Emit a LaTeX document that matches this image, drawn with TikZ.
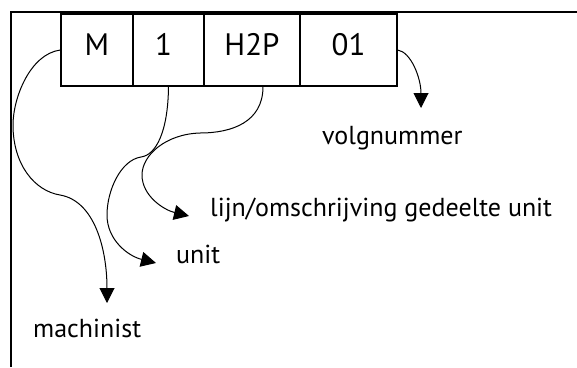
\documentclass[tikz,border=0pt]{standalone}
\usepackage{fontspec}
\setmainfont{PT Sans}
\usetikzlibrary{arrows.meta}
\begin{document}
\begin{tikzpicture}[x=1pt,y=-1pt,
  frameline/.style={line width=1.6pt},
  cell/.style={draw,line width=1.3pt,minimum height=72pt,inner sep=0pt,
    text height=22pt,text depth=12pt,font=\fontsize{31}{36}\selectfont},
  lbl/.style={anchor=base west,inner sep=0pt,font=\fontsize{26}{30}\selectfont},
  conn/.style={line width=1pt,-{Triangle[length=15pt,width=15pt]}}]
\useasboundingbox (0,0) rectangle (577,367);
% frame
\draw[frameline] (11,367) -- (11,12) -- (577,12);
% boxes
\node[cell,minimum width=72pt] (m) at (97,50) {M};
\node[cell,minimum width=71pt] (one) at (168.5,50) {1\hspace*{10pt}};
\node[cell,minimum width=96pt] (h2p) at (252,50) {H2P};
\node[cell,minimum width=97pt] (zero) at (348.5,50) {01};
% labels
\node[lbl] (volg) at (322,144) {volgnummer};
\node[lbl] (lijn) at (210,216) {lijn/omschrijving gedeelte unit};
\node[lbl] (unit) at (176,263) {unit};
\node[lbl] (mach) at (33,337) {machinist};
% arrow ends
\coordinate (tv) at (421,108);
\coordinate (tl) at (189,216);
\coordinate (tu) at (156,263);
\coordinate (tm) at (107,303);
% connectors
\draw[conn] (zero.east) .. controls (411,52) and (421,78) .. (tv);
\draw[conn] ([xshift=11pt]h2p.south) .. controls (263,122) and (232,133) .. (200,133)
  .. controls (166,134) and (142,155) .. (142,175)
  .. controls (142,196) and (164,210) .. (tl);
\draw[conn] (one.south) .. controls (168,132) and (156,155) .. (141,157)
  .. controls (121,160) and (107,190) .. (107,215)
  .. controls (107,240) and (128,256) .. (tu);
\draw[conn] (m.west) .. controls (30,54) and (13,98) .. (13,125)
  .. controls (13,165) and (35,191) .. (60,195)
  .. controls (95,201) and (107,250) .. (tm);
\end{tikzpicture}
\end{document}
